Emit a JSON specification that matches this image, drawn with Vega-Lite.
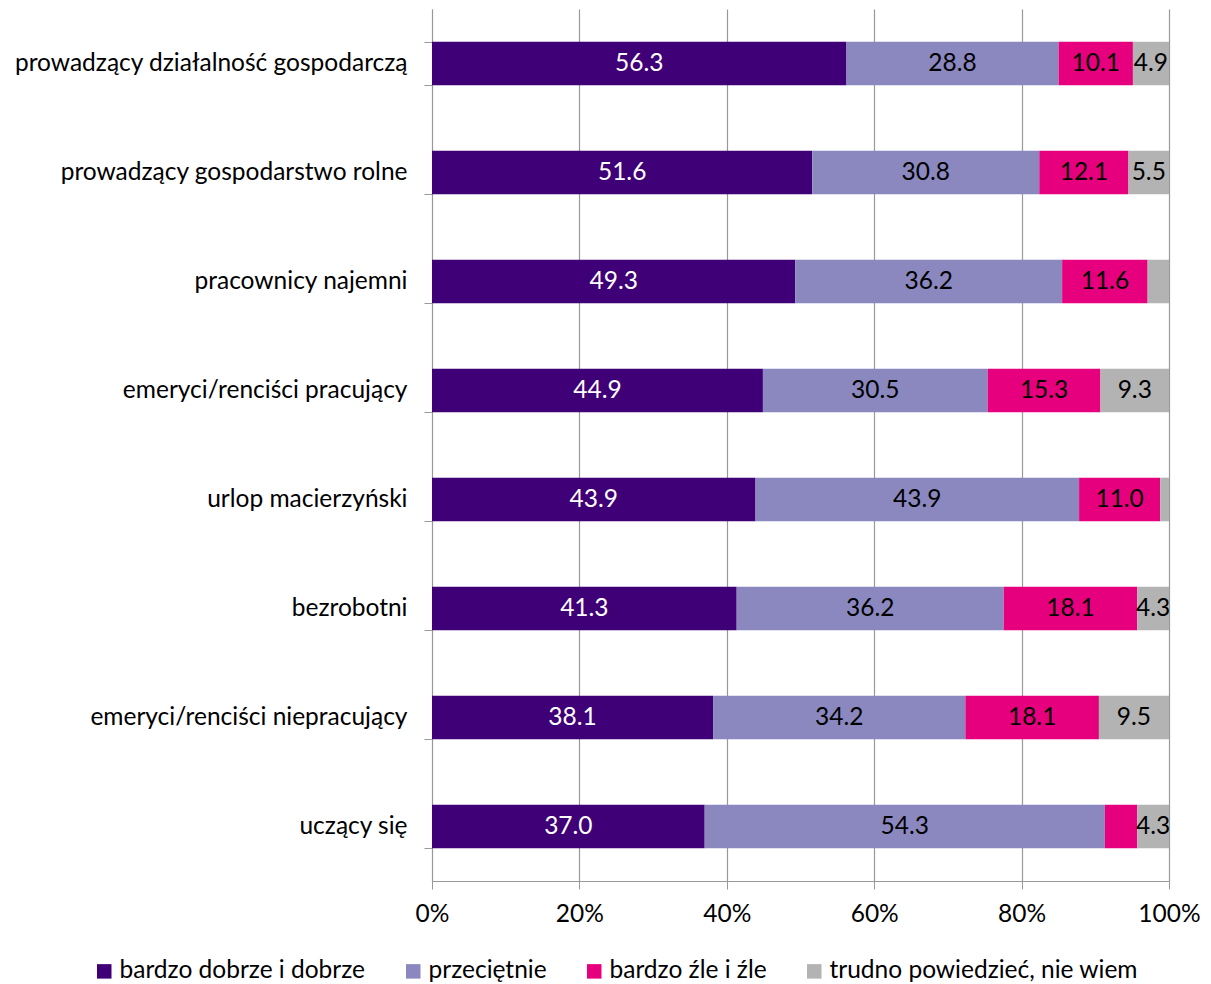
{
  "$schema": "https://vega.github.io/schema/vega-lite/v6.json",
  "autosize": "none",
  "width": 737,
  "height": 872,
  "padding": {"left": 432, "top": 9, "right": 42, "bottom": 103},
  "background": "white",
  "config": {
    "font": "Lato",
    "view": {"stroke": null},
    "axis": {"labelFont": "Lato", "labelColor": "black", "domainColor": "#999999", "tickColor": "#999999", "gridColor": "#999999"}
  },
  "data": {
    "values": [
      {"group": "prowadzący działalność gospodarczą", "series": "bardzo dobrze i dobrze", "ord": 1, "value": 56.3, "label": "56.3"},
      {"group": "prowadzący działalność gospodarczą", "series": "przeciętnie", "ord": 2, "value": 28.8, "label": "28.8"},
      {"group": "prowadzący działalność gospodarczą", "series": "bardzo źle i źle", "ord": 3, "value": 10.1, "label": "10.1"},
      {"group": "prowadzący działalność gospodarczą", "series": "trudno powiedzieć, nie wiem", "ord": 4, "value": 4.9, "label": "4.9"},
      {"group": "prowadzący gospodarstwo rolne", "series": "bardzo dobrze i dobrze", "ord": 1, "value": 51.6, "label": "51.6"},
      {"group": "prowadzący gospodarstwo rolne", "series": "przeciętnie", "ord": 2, "value": 30.8, "label": "30.8"},
      {"group": "prowadzący gospodarstwo rolne", "series": "bardzo źle i źle", "ord": 3, "value": 12.1, "label": "12.1"},
      {"group": "prowadzący gospodarstwo rolne", "series": "trudno powiedzieć, nie wiem", "ord": 4, "value": 5.5, "label": "5.5"},
      {"group": "pracownicy najemni", "series": "bardzo dobrze i dobrze", "ord": 1, "value": 49.3, "label": "49.3"},
      {"group": "pracownicy najemni", "series": "przeciętnie", "ord": 2, "value": 36.2, "label": "36.2"},
      {"group": "pracownicy najemni", "series": "bardzo źle i źle", "ord": 3, "value": 11.6, "label": "11.6"},
      {"group": "pracownicy najemni", "series": "trudno powiedzieć, nie wiem", "ord": 4, "value": 2.9, "label": ""},
      {"group": "emeryci/renciści pracujący", "series": "bardzo dobrze i dobrze", "ord": 1, "value": 44.9, "label": "44.9"},
      {"group": "emeryci/renciści pracujący", "series": "przeciętnie", "ord": 2, "value": 30.5, "label": "30.5"},
      {"group": "emeryci/renciści pracujący", "series": "bardzo źle i źle", "ord": 3, "value": 15.3, "label": "15.3"},
      {"group": "emeryci/renciści pracujący", "series": "trudno powiedzieć, nie wiem", "ord": 4, "value": 9.3, "label": "9.3"},
      {"group": "urlop macierzyński", "series": "bardzo dobrze i dobrze", "ord": 1, "value": 43.9, "label": "43.9"},
      {"group": "urlop macierzyński", "series": "przeciętnie", "ord": 2, "value": 43.9, "label": "43.9"},
      {"group": "urlop macierzyński", "series": "bardzo źle i źle", "ord": 3, "value": 11.0, "label": "11.0"},
      {"group": "urlop macierzyński", "series": "trudno powiedzieć, nie wiem", "ord": 4, "value": 1.2, "label": ""},
      {"group": "bezrobotni", "series": "bardzo dobrze i dobrze", "ord": 1, "value": 41.3, "label": "41.3"},
      {"group": "bezrobotni", "series": "przeciętnie", "ord": 2, "value": 36.2, "label": "36.2"},
      {"group": "bezrobotni", "series": "bardzo źle i źle", "ord": 3, "value": 18.1, "label": "18.1"},
      {"group": "bezrobotni", "series": "trudno powiedzieć, nie wiem", "ord": 4, "value": 4.3, "label": "4.3"},
      {"group": "emeryci/renciści niepracujący", "series": "bardzo dobrze i dobrze", "ord": 1, "value": 38.1, "label": "38.1"},
      {"group": "emeryci/renciści niepracujący", "series": "przeciętnie", "ord": 2, "value": 34.2, "label": "34.2"},
      {"group": "emeryci/renciści niepracujący", "series": "bardzo źle i źle", "ord": 3, "value": 18.1, "label": "18.1"},
      {"group": "emeryci/renciści niepracujący", "series": "trudno powiedzieć, nie wiem", "ord": 4, "value": 9.5, "label": "9.5"},
      {"group": "uczący się", "series": "bardzo dobrze i dobrze", "ord": 1, "value": 37.0, "label": "37.0"},
      {"group": "uczący się", "series": "przeciętnie", "ord": 2, "value": 54.3, "label": "54.3"},
      {"group": "uczący się", "series": "bardzo źle i źle", "ord": 3, "value": 4.4, "label": ""},
      {"group": "uczący się", "series": "trudno powiedzieć, nie wiem", "ord": 4, "value": 4.3, "label": "4.3"}
    ]
  },
  "transform": [
    {"stack": "value", "groupby": ["group"], "sort": [{"field": "ord", "order": "ascending"}], "offset": "normalize", "as": ["v0", "v1"]},
    {"calculate": "(datum.v0 + datum.v1) / 2", "as": "vmid"}
  ],
  "encoding": {
    "y": {
      "field": "group",
      "type": "nominal",
      "sort": null,
      "scale": {"paddingInner": 0.6, "paddingOuter": 0.3},
      "axis": {
        "title": null,
        "labelFontSize": 24.5,
        "labelPadding": 17,
        "tickBand": "extent",
        "tickSize": 8,
        "labelLimit": 500
      }
    }
  },
  "layer": [
    {
      "mark": {"type": "bar"},
      "encoding": {
        "x": {
          "field": "v0",
          "type": "quantitative",
          "scale": {"domain": [0, 1], "nice": false},
          "axis": {
            "title": null,
            "format": "%",
            "values": [0, 0.2, 0.4, 0.6, 0.8, 1],
            "labelFontSize": 24.5,
            "labelPadding": 13,
            "labelFlush": false,
            "tickSize": 8,
            "grid": true,
            "gridWidth": 1.2
          }
        },
        "x2": {"field": "v1"},
        "color": {
          "field": "series",
          "type": "nominal",
          "sort": ["bardzo dobrze i dobrze", "przeciętnie", "bardzo źle i źle", "trudno powiedzieć, nie wiem"],
          "scale": {
            "domain": ["bardzo dobrze i dobrze", "przeciętnie", "bardzo źle i źle", "trudno powiedzieć, nie wiem"],
            "range": ["#3F0077", "#8B88C0", "#E6007E", "#B3B3B3"]
          },
          "legend": {
            "title": null,
            "orient": "none",
            "direction": "horizontal",
            "legendX": -340,
            "legendY": 950,
            "symbolType": "square",
            "symbolSize": 210,
            "symbolStrokeWidth": 0,
            "labelFontSize": 24.5,
            "labelFont": "Lato",
            "labelColor": "black",
            "labelOffset": 3,
            "columnPadding": 35,
            "labelLimit": 500
          }
        }
      }
    },
    {
      "mark": {"type": "text", "fontSize": 24.5, "baseline": "middle", "align": "center"},
      "encoding": {
        "x": {"field": "vmid", "type": "quantitative"},
        "text": {"field": "label", "type": "nominal"},
        "color": {
          "condition": {"test": "datum.ord === 1", "value": "white"},
          "value": "black"
        }
      }
    }
  ]
}
